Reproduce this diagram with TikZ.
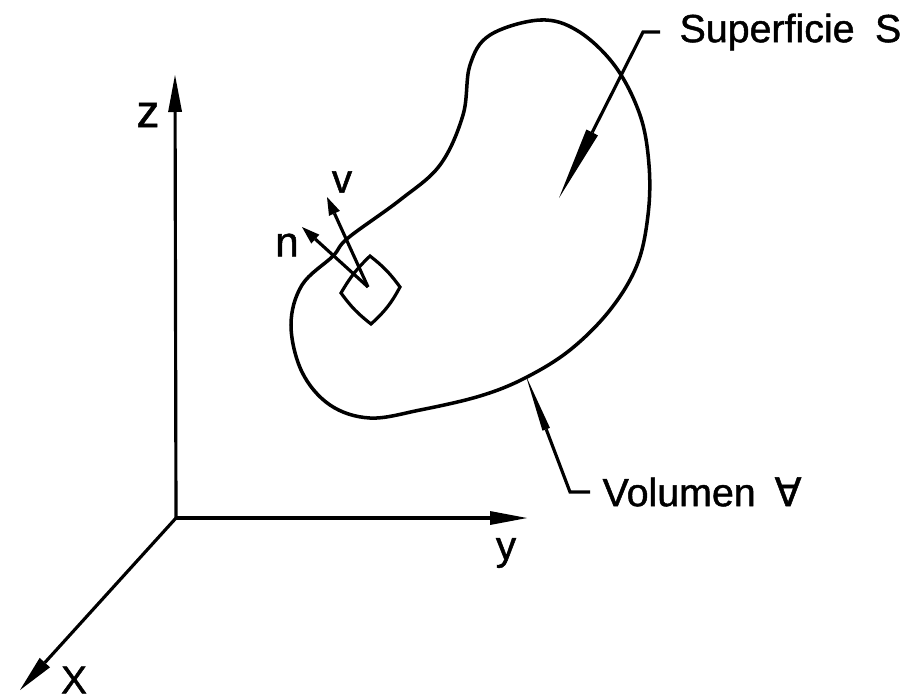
\documentclass[tikz,border=0pt]{standalone}
\usepackage{fontspec}
\setmainfont{Liberation Sans}[RawFeature={embolden=1.2}]
\newfontfamily\symfont{DejaVu Sans}[RawFeature={embolden=1.2}]
\usetikzlibrary{arrows.meta, positioning}
\tikzset{
  every picture/.style={line width=1.8pt},
  axis/.style={-{Triangle[length=7.4mm, width=2.8mm, line width=0pt]}},
  vect/.style={-{Triangle[length=3.6mm, width=2.4mm, line width=0pt]}},
  leader/.style 2 args={-{Triangle[length=#1, width=#2, line width=0pt]}},
  lbl/.style={font=\fontsize{22.4}{24}\selectfont, inner sep=0pt},
  letter/.style={inner sep=0pt, font=\fontsize{#1}{30}\selectfont},
}
\begin{document}
\begin{tikzpicture}[x=0.02cm, y=-0.02cm]
  \useasboundingbox (0,0) rectangle (902,698);
  % axes
  \coordinate (orig) at (176,518);
  \node[letter=26] (zlab) at (148,115) {z};
  \node[letter=23] (ylab) at (506,553) {y};
  \node[letter=22] (xlab) at (74,680) {X};
  \coordinate (ztip) at (175,75);
  \coordinate (ytip) at (527,518);
  \coordinate (xtip) at (20,690);
  \draw[axis] (orig) -- (ztip);
  \draw[axis] (orig) -- (ytip);
  \draw[axis] (orig) -- (xtip);
  % body
  \draw[line width=2pt] plot[smooth cycle, tension=0.6] coordinates {
    (540,20) (578,31) (615,66) (640,115) (649,165) (648,215) (637,265) (610,310)
    (570,350) (525,378) (480,396) (420,410) (370,418) (330,405) (302,372) (291,325)
    (302,285) (333,256) (348,238) (400,200) (440,165) (463,115) (470,65) (490,35)};
  % surface element
  \draw (370,256) to[bend left=8] (400,287) to[bend left=10] (371,324)
    to[bend left=8] (341,293) to[bend left=8] cycle;
  \coordinate (dA) at (368,287);
  \coordinate (vtip) at (327,197);
  \coordinate (ntip) at (302,227);
  \draw[vect] (dA) -- (vtip);
  \draw[vect] (dA) -- (ntip);
  \node[letter=23] (vlab) at (342,182) {v};
  \node[letter=24] (nlab) at (287,245) {n};
  % labels
  \node[lbl, anchor=west] (suplab) at (678,32) {Superficie\hspace{0.52em}S};
  \node[lbl, anchor=west] (vollab) at (601,492) {Volumen\hspace{0.48em}{\symfont ∀}};
  \coordinate (supknee) at (643,32);
  \coordinate (suptip) at (559,198);
  \coordinate (volknee) at (570,492);
  \coordinate (voltip) at (526,376);
  \draw[leader={1.47cm}{2.6mm}] (660,32) -- (supknee) -- (suptip);
  \draw[leader={1.14cm}{1.6mm}] (590,492) -- (volknee) -- (voltip);
\end{tikzpicture}
\end{document}
